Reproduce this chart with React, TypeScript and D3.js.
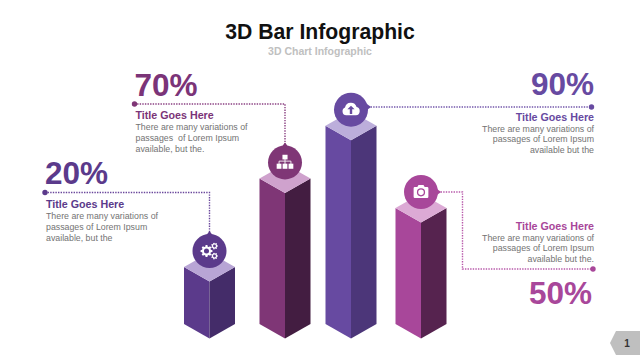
import React from "react";
import * as d3 from "d3";

const W = 640, H = 360;
const FONT = "'Liberation Sans', Arial, sans-serif";

// data
const categories = ["gears", "org", "cloud", "camera"];
const percentLabels = ["20%", "70%", "90%", "50%"];
const barLevels = [27, 69, 94, 55];
const titleLabel = "Title Goes Here";
const bodyLines = [
  ["There are many variations of", "passages of Lorem Ipsum", "available, but the"],
  ["There are many variations of", "passages  of Lorem Ipsum", "available, but the."],
  ["There are many variations of", "passages of Lorem Ipsum", "available but the"],
  ["There are many variations of", "passages of Lorem Ipsum", "available but the."],
];

// styles and layout
const frontColors = ["#5b3a8b", "#7f3676", "#674aa1", "#a8479a"];
const sideColors = ["#442c69", "#431d41", "#4c3679", "#56234f"];
const topColors = ["#b8a5d5", "#cfa2cd", "#bcaedb", "#dcaad5"];
const lineColors = ["#6a479c", "#8a4082", "#7357ab", "#b859aa"];
const dotColors = ["#5b3a8b", "#7f3676", "#674aa1", "#a8479a"];
const textColors = ["#5b3a8b", "#7b3478", "#674aa1", "#a8479a"];
const centerX = d3.scaleOrdinal<string, number>().domain(categories).range([209.5, 285, 351, 421]);
const levelScale = d3.scaleLinear().domain([0, 100]).range([324, 113]);
const HALF = 25.5, DEPTH = 14.5, R = 17;

const poly = d3.line<[number, number]>().curve(d3.curveLinearClosed);
const path = d3.line<[number, number]>();

function gearPath(cx: number, cy: number, r: number, teeth: number) {
  const pts: [number, number][] = [];
  for (let i = 0; i < teeth; i++) {
    const a = (i / teeth) * 2 * Math.PI, s = (Math.PI / teeth) * 0.55;
    [[r * 0.76, -s * 1.25], [r, -s * 0.7], [r, s * 0.7], [r * 0.76, s * 1.25]].forEach(([rr, d]) =>
      pts.push([cx + rr * Math.cos(a + d), cy + rr * Math.sin(a + d)])
    );
  }
  return poly(pts) + ` M${cx + r * 0.42},${cy} a${r * 0.42},${r * 0.42} 0 1,0 ${-r * 0.84},0 a${r * 0.42},${r * 0.42} 0 1,0 ${r * 0.84},0 Z`;
}

function Icon({ kind, x, y, color }: { kind: string; x: number; y: number; color: string }) {
  const white = "#ffffff";
  if (kind === "gears") {
    return (
      <g fill={white} fillRule="evenodd">
        <path d={gearPath(x - 3, y, 6, 8)} />
        <path d={gearPath(x + 5, y - 5, 3.4, 7)} />
        <path d={gearPath(x + 5, y + 5, 3.4, 7)} />
      </g>
    );
  }
  if (kind === "org") {
    return (
      <g fill={white} transform={`translate(${x},${y}) scale(0.85) translate(${-x},${-y})`}>
        <rect x={x - 3} y={y - 9} width={6} height={5.5} />
        <path d={`M${x - 7},${y + 2} V${y - 1.5} H${x + 7} V${y + 2} M${x},${y - 4} V${y + 2}`} fill="none" stroke={white} strokeWidth={1} />
        {[-7, 0, 7].map((d) => <rect key={d} x={x + d - 2.8} y={y + 1.5} width={5.6} height={6} />)}
      </g>
    );
  }
  if (kind === "cloud") {
    return (
      <g transform={`translate(${x},${y}) scale(0.8) translate(${-x},${-y})`}>
        <path fill={white} d={`M${x - 6},${y + 7} a5,5 0 0 1 -1.5,-9.6 a7.5,7.5 0 0 1 14.5,-0.6 a5.2,5.2 0 0 1 -0.8,10.2 Z`} />
        <path fill={color} d={`M${x},${y - 5} l4.5,4.5 h-3 v6 h-3 v-6 h-3 Z`} />
      </g>
    );
  }
  return (
    <g transform={`translate(${x},${y}) scale(0.82) translate(${-x},${-y})`}>
      <path fill={white} d={`M${x - 9},${y - 4.5} q0,-1.5 1.5,-1.5 h3 l1.5,-2.5 h6 l1.5,2.5 h3 q1.5,0 1.5,1.5 v10.5 q0,1.5 -1.5,1.5 h-15 q-1.5,0 -1.5,-1.5 Z`} />
      <circle cx={x} cy={y + 0.5} r={4.2} fill="none" stroke={color} strokeWidth={1.6} />
    </g>
  );
}

function Bar({ i }: { i: number }) {
  const cat = categories[i];
  const c = centerX(cat);
  const top = levelScale(barLevels[i]);
  const bottom = levelScale(0);
  const L = c - HALF, Rt = c + HALF;
  return (
    <g>
      <path d={poly([[L, top], [c, top + DEPTH], [c, bottom + DEPTH], [L, bottom]])!} fill={frontColors[i]} />
      <path d={poly([[Rt, top], [c, top + DEPTH], [c, bottom + DEPTH], [Rt, bottom]])!} fill={sideColors[i]} />
      <path d={poly([[L, top], [c, top - DEPTH], [Rt, top], [c, top + DEPTH]])!} fill={topColors[i]} />
      <circle cx={c} cy={top - 16} r={R} fill={frontColors[i]} />
      <Icon kind={cat} x={c} y={top - 16} color={frontColors[i]} />
    </g>
  );
}

function Leader({ pts, color }: { pts: [number, number][]; color: string }) {
  return <path d={path(pts)!} fill="none" stroke={color} strokeWidth={1.4} strokeDasharray="1.4 1.2" />;
}

function Block({ i, x, pctX, pctY, titleY, anchor }: { i: number; x: number; pctX: number; pctY: number; titleY: number; anchor: "start" | "end" }) {
  return (
    <g fontFamily={FONT} textAnchor={anchor}>
      <text x={pctX} y={pctY} fontSize={31.5} fontWeight={700} fill={textColors[i]}>{percentLabels[i]}</text>
      <text x={x} y={titleY} fontSize={10.7} fontWeight={700} fill={textColors[i]}>{titleLabel}</text>
      {bodyLines[i].map((t, k) => (
        <text key={k} x={x} y={titleY + 11 + k * 10.8} fontSize={8.8} fill="#737373" style={{ whiteSpace: "pre" }}>{t}</text>
      ))}
    </g>
  );
}

export default function App() {
  const cx = categories.map((c) => centerX(c));
  const cy = barLevels.map((v) => levelScale(v) - 16);
  return (
    <svg width={W} height={H} viewBox={`0 0 ${W} ${H}`} style={{ position: "fixed", left: 0, top: 0, background: "#fff" }}>
      <text x={320} y={39} textAnchor="middle" fontFamily={FONT} fontSize={21.2} fontWeight={700} fill="#111">3D Bar Infographic</text>
      <text x={320} y={55} textAnchor="middle" fontFamily={FONT} fontSize={10.5} fontWeight={700} fill="#c0c0c0">3D Chart Infographic</text>

      <Leader pts={[[45, 192.5], [cx[0], 192.5], [cx[0], cy[0] - R]]} color={lineColors[0]} />
      <Leader pts={[[134.5, 104], [cx[1], 104], [cx[1], cy[1] - R]]} color={lineColors[1]} />
      <Leader pts={[[cx[2] + R, 107], [591.5, 107]]} color={lineColors[2]} />
      <Leader pts={[[cx[3] + R, cy[3]], [462.5, cy[3]], [462.5, 269], [593, 269]]} color={lineColors[3]} />
      <circle cx={45} cy={192.5} r={2.7} fill={dotColors[0]} />
      <circle cx={134.5} cy={104} r={2.7} fill={dotColors[1]} />
      <circle cx={591.5} cy={107} r={2.7} fill={dotColors[2]} />
      <circle cx={593} cy={269} r={2.7} fill={dotColors[3]} />
      <path d={poly([[cx[0] - 3, cy[0] - R + 1], [cx[0], cy[0] - R - 3], [cx[0] + 3, cy[0] - R + 1]])!} fill={frontColors[0]} />
      <path d={poly([[cx[1] - 3, cy[1] - R + 1], [cx[1], cy[1] - R - 3], [cx[1] + 3, cy[1] - R + 1]])!} fill={frontColors[1]} />
      <path d={poly([[cx[2] + R - 1, 104], [cx[2] + R + 3, 107], [cx[2] + R - 1, 110]])!} fill={frontColors[2]} />
      <path d={poly([[cx[3] + R - 1, cy[3] - 3], [cx[3] + R + 3, cy[3]], [cx[3] + R - 1, cy[3] + 3]])!} fill={frontColors[3]} />

      {categories.map((_, i) => <Bar key={i} i={i} />)}

      <Block i={0} x={46} pctX={45} pctY={184} titleY={208} anchor="start" />
      <Block i={1} x={135.5} pctX={134.5} pctY={96} titleY={119} anchor="start" />
      <Block i={2} x={594} pctX={594} pctY={95} titleY={120.5} anchor="end" />
      <Block i={3} x={594} pctX={592} pctY={304} titleY={229.5} anchor="end" />

      <path d={poly([[610, 343], [616, 331], [640, 331], [640, 355], [616, 355]])!} fill="#bfbfbf" />
      <text x={627} y={347} textAnchor="middle" fontFamily={FONT} fontSize={10} fontWeight={700} fill="#333">1</text>
    </svg>
  );
}
